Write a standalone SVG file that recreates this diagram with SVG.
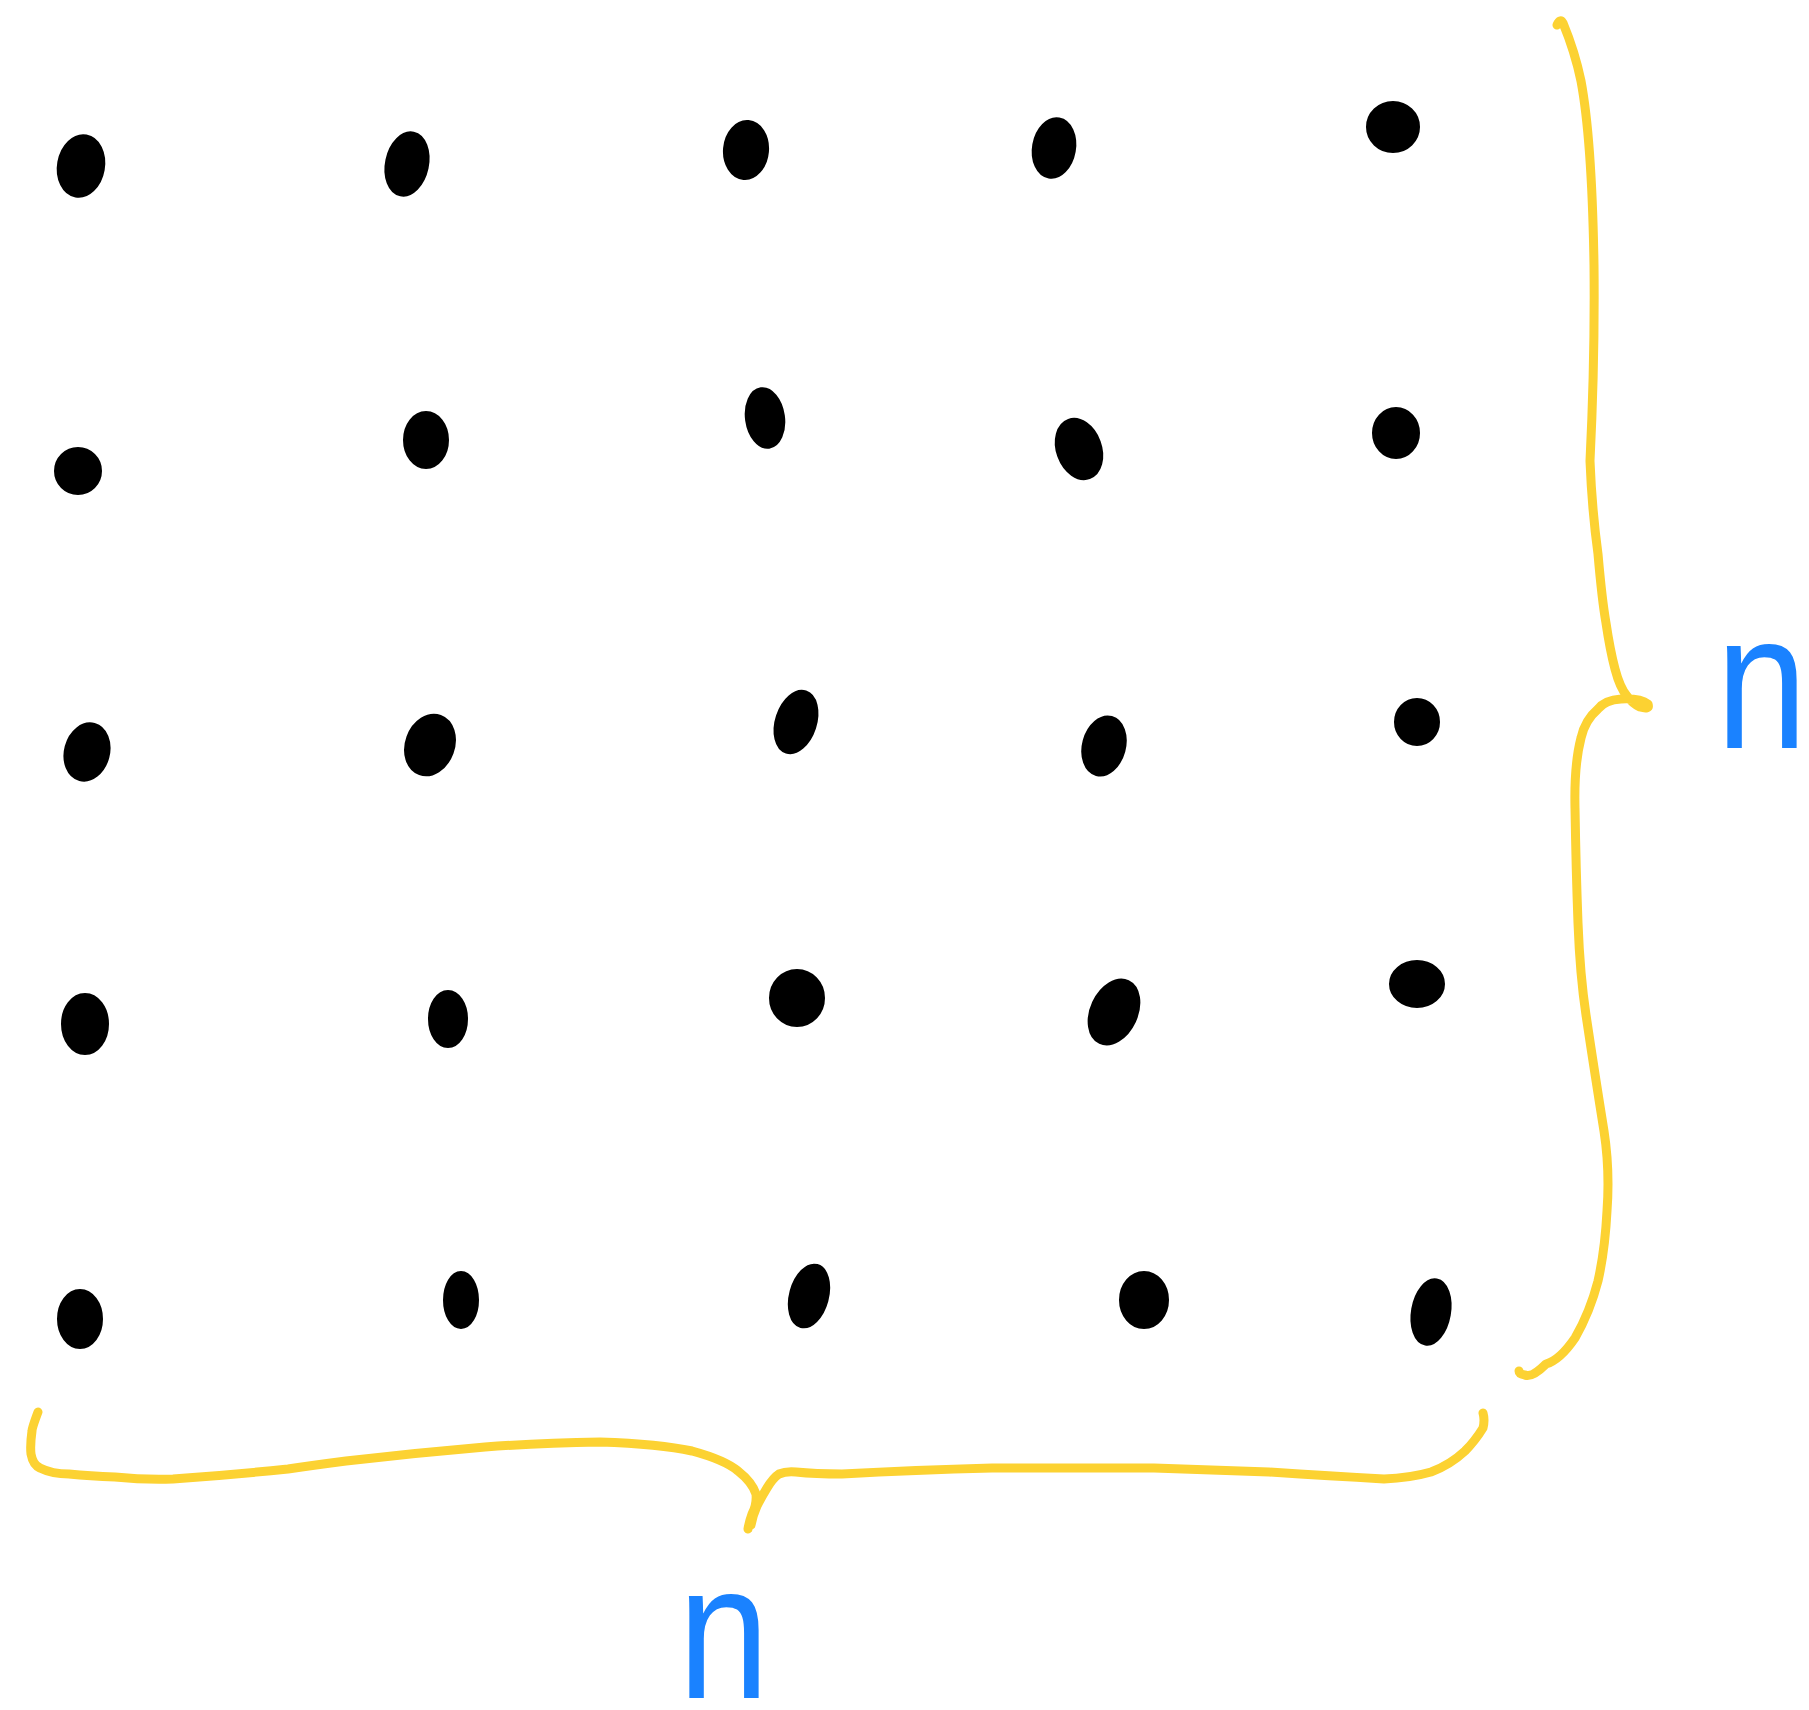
<svg xmlns="http://www.w3.org/2000/svg" width="1809" height="1710" viewBox="0 0 1809 1710">
<style>
.dot{fill:#000;stroke:#000;stroke-width:4;stroke-linejoin:round}
.brace{fill:none;stroke:#fcd232;stroke-width:9;stroke-linecap:round;stroke-linejoin:round}
.lbl{font-family:"Liberation Sans",Arial,sans-serif;font-size:193px;fill:#1a82ff}
</style>
<rect width="1809" height="1710" fill="#fff"/>
<g id="dots">
<ellipse class="dot" cx="81" cy="166" rx="22" ry="30" transform="rotate(10 81 166)"/>
<ellipse class="dot" cx="407" cy="164" rx="20" ry="31" transform="rotate(12 407 164)"/>
<ellipse class="dot" cx="746" cy="150" rx="21" ry="28" transform="rotate(5 746 150)"/>
<ellipse class="dot" cx="1054" cy="148" rx="20" ry="29" transform="rotate(10 1054 148)"/>
<ellipse class="dot" cx="1393" cy="127" rx="25" ry="24"/>
<ellipse class="dot" cx="78" cy="471" rx="22" ry="22"/>
<ellipse class="dot" cx="426" cy="440" rx="21" ry="27"/>
<ellipse class="dot" cx="765" cy="418" rx="18" ry="29" transform="rotate(-8 765 418)"/>
<ellipse class="dot" cx="1079" cy="449" rx="21" ry="30" transform="rotate(-20 1079 449)"/>
<ellipse class="dot" cx="1396" cy="433" rx="22" ry="24"/>
<ellipse class="dot" cx="87" cy="752" rx="21" ry="28" transform="rotate(15 87 752)"/>
<ellipse class="dot" cx="430" cy="745" rx="23" ry="30" transform="rotate(20 430 745)"/>
<ellipse class="dot" cx="796" cy="722" rx="19" ry="31" transform="rotate(18 796 722)"/>
<ellipse class="dot" cx="1104" cy="746" rx="20" ry="29" transform="rotate(15 1104 746)"/>
<ellipse class="dot" cx="1417" cy="722" rx="21" ry="22"/>
<ellipse class="dot" cx="85" cy="1024" rx="22" ry="29"/>
<ellipse class="dot" cx="448" cy="1019" rx="18" ry="27"/>
<ellipse class="dot" cx="797" cy="998" rx="26" ry="27"/>
<ellipse class="dot" cx="1114" cy="1012" rx="22" ry="33" transform="rotate(25 1114 1012)"/>
<ellipse class="dot" cx="1417" cy="984" rx="26" ry="22"/>
<ellipse class="dot" cx="80" cy="1319" rx="21" ry="28"/>
<ellipse class="dot" cx="461" cy="1300" rx="16" ry="27"/>
<ellipse class="dot" cx="809" cy="1296" rx="18" ry="31" transform="rotate(15 809 1296)"/>
<ellipse class="dot" cx="1144" cy="1300" rx="23" ry="27"/>
<ellipse class="dot" cx="1431" cy="1312" rx="18" ry="32" transform="rotate(10 1431 1312)"/>
</g>
<g id="braces">
<path class="brace" d="M1557 25 Q1560 18 1563 23 Q1575 52 1581 81 Q1592 140 1594 265 Q1595 360 1590 461 Q1592 510 1598 554 Q1602 600 1606 623 Q1610 650 1615 669 Q1620 688 1627 696 Q1633 704 1640 707 Q1650 710 1648 704 Q1640 698 1621 699 Q1605 700 1598 709 Q1585 720 1581 738 Q1574 765 1575 808 Q1576 870 1578 923 Q1580 975 1586 1015 Q1595 1075 1604 1131 Q1610 1170 1607 1211 Q1605 1250 1598 1281 Q1590 1312 1575 1338 Q1560 1360 1546 1364 Q1532 1378 1525 1375 Q1519 1374 1519 1371"/>
<path class="brace" d="M38 1412 Q32 1428 32 1431 Q30 1445 31 1454 Q33 1465 40 1468 Q52 1474 69 1474 Q90 1476 115 1477 Q145 1480 173 1479 Q230 1475 288 1469 Q315 1465 346 1461 Q415 1453 485 1447 Q540 1443 600 1442 Q660 1444 692 1451 Q725 1460 738 1471 Q752 1482 756 1494 Q757 1505 752 1514 Q749 1522 748 1529"/>
<path class="brace" d="M751 1525 Q753 1515 757 1506 Q762 1496 767 1488 Q773 1478 779 1474 Q786 1471 796 1472 Q815 1474 842 1474 Q915 1470 992 1468 Q1070 1468 1154 1468 Q1210 1470 1269 1472 Q1330 1476 1384 1479 Q1410 1478 1431 1472 Q1450 1465 1465 1451 Q1475 1441 1483 1428 Q1485 1420 1483 1413"/>
</g>
<g id="labels">
<text class="lbl" transform="translate(1716 748) scale(0.85 1)">n</text>
<text class="lbl" transform="translate(678 1698) scale(0.85 1)">n</text>
</g>
</svg>
